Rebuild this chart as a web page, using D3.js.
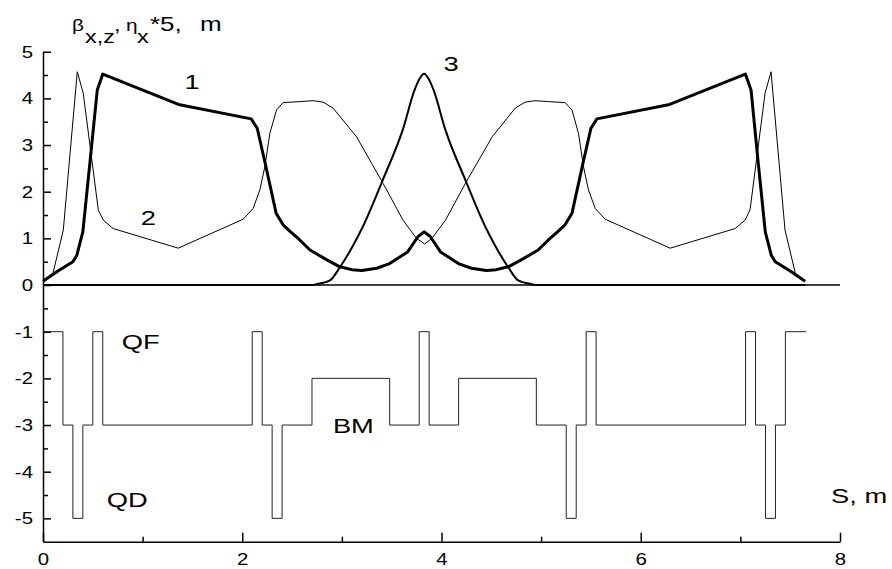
<!DOCTYPE html>
<html>
<head>
<meta charset="utf-8">
<script src="https://cdn.jsdelivr.net/npm/d3@7"></script>
<style>
	body { margin: 0; background: #fff; }
	svg text { font-family: "Liberation Sans", Arial, sans-serif; fill: #000; }
	.axis path, .axis line { stroke: #000; stroke-width: 1.5; }
	.axis text { font-size: 17px; }
	.lbl { font-size: 21px; }
</style>
</head>
<body>
<svg id="chart" width="892" height="569"></svg>
<script>

// curve 1 : beta x (thick)
var betaXs = [0.00, 0.15, 0.30, 0.34, 0.40, 0.47, 0.545, 0.60, 1.36, 2.09, 2.15, 2.23, 2.34, 2.41, 2.48, 2.58, 2.68, 2.85, 2.98, 3.10, 3.20, 3.35, 3.48, 3.66, 3.765, 3.826,
	3.887, 3.99, 4.17, 4.30, 4.45, 4.55, 4.67, 4.80, 4.97, 5.07, 5.17, 5.24, 5.31, 5.42, 5.50, 5.56, 6.29, 7.05, 7.107, 7.18, 7.25, 7.31, 7.35, 7.50, 7.65]
var betaXv = [0.08, 0.30, 0.50, 0.64, 1.14, 2.60, 4.18, 4.52, 3.87, 3.56, 3.36, 2.61, 1.54, 1.29, 1.15, 0.96, 0.75, 0.54, 0.39, 0.33, 0.31, 0.36, 0.46, 0.71, 1.04, 1.14,
	1.04, 0.71, 0.46, 0.36, 0.31, 0.33, 0.39, 0.54, 0.75, 0.96, 1.15, 1.29, 1.54, 2.61, 3.36, 3.56, 3.87, 4.52, 4.18, 2.60, 1.14, 0.64, 0.50, 0.30, 0.08]

// curve 2 : beta z (thin)
var betaZs = [0.00, 0.10, 0.204, 0.344, 0.404, 0.555, 0.605, 0.705, 1.357, 2.009, 2.109, 2.177, 2.227, 2.277, 2.344, 2.41, 2.578, 2.711, 2.811, 2.912, 3.146, 3.413, 3.614, 3.748, 3.831,
	3.904, 4.04, 4.24, 4.51, 4.74, 4.84, 4.94, 5.075, 5.24, 5.31, 5.375, 5.425, 5.475, 5.543, 5.643, 6.295, 6.947, 7.047, 7.097, 7.248, 7.308, 7.448, 7.552, 7.62]
var betaZv = [0.10, 0.25, 1.18, 4.57, 4.11, 1.61, 1.39, 1.21, 0.79, 1.41, 1.64, 2.04, 2.54, 3.25, 3.75, 3.91, 3.93, 3.95, 3.92, 3.79, 3.18, 2.18, 1.39, 1.00, 0.88,
	1.00, 1.39, 2.18, 3.18, 3.79, 3.92, 3.95, 3.93, 3.91, 3.75, 3.25, 2.54, 2.04, 1.64, 1.41, 0.79, 1.21, 1.39, 1.61, 4.11, 4.57, 1.18, 0.25, 0.10]

// curve 3 : eta x * 5
var etaS = [0.00, 2.70, 2.75, 2.88, 2.98, 3.10, 3.21, 3.41, 3.61, 3.73, 3.78, 3.826, 3.87, 3.92, 4.04, 4.24, 4.44, 4.55, 4.67, 4.77, 4.90, 4.95, 7.652]
var etaV = [0.00, 0.00, 0.02, 0.10, 0.38, 0.80, 1.25, 2.25, 3.32, 4.18, 4.42, 4.53, 4.42, 4.18, 3.32, 2.25, 1.25, 0.80, 0.38, 0.10, 0.02, 0.00, 0.00]

// lattice : element edges and level of each element
var latEdges = [0, 0.20, 0.30, 0.40, 0.50, 0.60, 2.10, 2.20, 2.30, 2.40, 2.70, 3.48, 3.776, 3.876, 4.172, 4.952, 5.252, 5.352, 5.452, 5.552, 7.052, 7.152, 7.252, 7.352, 7.452, 7.66]
var latLevel = [-1, -3, -5, -3, -1, -3, -1, -3, -5, -3, -2, -3, -1, -3, -2, -3, -5, -3, -1, -3, -1, -3, -5, -3, -1]

var xMajor = [0, 2, 4, 6, 8]
var xMinor = [1, 3, 5, 7]
var yMajor = [5, 4, 3, 2, 1, 0, -1, -2, -3, -4, -5]
var yMinor = [4.5, 3.5, 2.5, 1.5, 0.5, -0.5, -1.5, -2.5, -3.5, -4.5]

var curveLabels = [
	{ t: '1', x: 1.42, y: 4.2 },
	{ t: '2', x: 0.98, y: 1.29 },
	{ t: '3', x: 4.02, y: 4.59 },
	{ t: 'QF', x: 0.79, y: -1.38 },
	{ t: 'QD', x: 0.64, y: -4.76 },
	{ t: 'BM', x: 2.91, y: -3.17 },
	{ t: 'S, m', x: 7.91, y: -4.67 }
]

// y title pieces: text, left px, baseline px, font size
var titleParts = [
	{ t: 'β', x: 72, y: 31, s: 16 },
	{ t: 'x,z', x: 85, y: 43, s: 18 },
	{ t: ',', x: 114, y: 31, s: 18 },
	{ t: 'η', x: 126, y: 31, s: 16 },
	{ t: 'x', x: 137, y: 43, s: 18 },
	{ t: '*5,', x: 150, y: 31, s: 20 },
	{ t: 'm', x: 200, y: 31, s: 20 }
]

var stretch = 1.3
var tickStretch = 1.2

var svg = d3.select('#chart')

var x = d3.scaleLinear().domain([0, 8]).range([43, 840])
var y = d3.scaleLinear().domain([-5.5, 5]).range([541.7, 51.7])

// axes
var yAx = svg.append('g')
	.attr('class', 'axis')
	.attr('transform', 'translate(' + x(0) + ',0)')
	.call(d3.axisLeft(y).tickValues(yMajor).tickSize(-8).tickSizeOuter(0).tickPadding(10).tickFormat(function(d) { return String(d) }))

yAx.selectAll('text')
	.attr('x', -10 / tickStretch)
	.attr('transform', 'scale(' + tickStretch + ',1)')

svg.append('g')
	.attr('class', 'axis')
	.attr('transform', 'translate(' + x(0) + ',0)')
	.call(d3.axisLeft(y).tickValues(yMinor).tickSize(-5).tickSizeOuter(0).tickFormat(''))
	.select('.domain').remove()

var xAx = svg.append('g')
	.attr('class', 'axis')
	.attr('transform', 'translate(0,' + y(-5.5) + ')')
	.call(d3.axisBottom(x).tickValues(xMajor).tickSize(-9).tickSizeOuter(0).tickPadding(11))

xAx.selectAll('text')
	.attr('transform', 'scale(' + tickStretch + ',1)')

svg.append('g')
	.attr('class', 'axis')
	.attr('transform', 'translate(0,' + y(-5.5) + ')')
	.call(d3.axisBottom(x).tickValues(xMinor).tickSize(-5).tickSizeOuter(0).tickFormat(''))
	.select('.domain').remove()

// zero line
svg.append('line')
	.attr('x1', x(0)).attr('x2', x(8))
	.attr('y1', y(0)).attr('y2', y(0))
	.attr('stroke', '#000')
	.attr('stroke-width', 1.5)

var toPts = function(s, v) {
	return s.map(function(d, i) { return [d, v[i]] })
}

var line = d3.line()
	.x(function(d) { return x(d[0]) })
	.y(function(d) { return y(d[1]) })

// lattice step line
var latPts = []
latLevel.forEach(function(lv, i) {
	latPts.push([latEdges[i], lv])
	latPts.push([latEdges[i + 1], lv])
})

svg.append('path')
	.attr('d', line(latPts))
	.attr('fill', 'none')
	.attr('stroke', '#222')
	.attr('stroke-width', 1)

svg.append('path')
	.attr('d', line(toPts(betaZs, betaZv)))
	.attr('fill', 'none')
	.attr('stroke', '#000')
	.attr('stroke-width', 1)

svg.append('path')
	.attr('d', line.curve(d3.curveMonotoneX)(toPts(etaS, etaV)))
	.attr('fill', 'none')
	.attr('stroke', '#000')
	.attr('stroke-width', 2)

svg.append('path')
	.attr('d', line.curve(d3.curveLinear)(toPts(betaXs, betaXv)))
	.attr('fill', 'none')
	.attr('stroke', '#000')
	.attr('stroke-width', 3)
	.attr('stroke-linejoin', 'round')

// labels
svg.selectAll('.lbl')
	.data(curveLabels)
	.enter().append('text')
	.attr('class', 'lbl')
	.attr('transform', function(d) {
		return 'translate(' + x(d.x) + ',' + y(d.y) + ') scale(' + stretch + ',1)'
	})
	.text(function(d) { return d.t })

// y title
svg.selectAll('.ttl')
	.data(titleParts)
	.enter().append('text')
	.attr('class', 'ttl')
	.style('font-size', function(d) { return d.s + 'px' })
	.attr('transform', function(d) {
		return 'translate(' + d.x + ',' + d.y + ') scale(' + stretch + ',1)'
	})
	.text(function(d) { return d.t })

</script>
</body>
</html>
